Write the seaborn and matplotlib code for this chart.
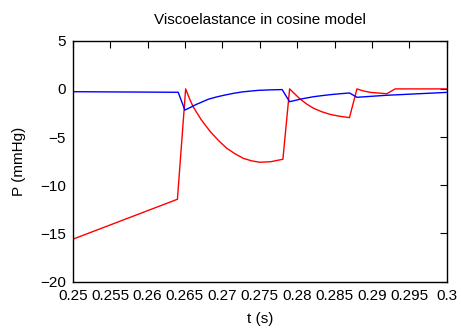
import matplotlib
matplotlib.use("Agg")
import matplotlib.pyplot as plt
import seaborn as sns
import pandas as pd

# Pressure traces (t in s, P in mmHg)
t_red = [0.2500, 0.2640, 0.2651, 0.2656, 0.2661, 0.2672, 0.2684, 0.2695,
         0.2706, 0.2717, 0.2728, 0.2739, 0.2750, 0.2765, 0.2781, 0.2790,
         0.2804, 0.2813, 0.2822, 0.2833, 0.2844, 0.2857, 0.2870, 0.2880,
         0.2888, 0.2898, 0.2920, 0.2931, 0.3000]
p_red = [-15.6, -11.45, 0.0, -0.98, -1.85, -3.22, -4.44, -5.36,
         -6.16, -6.73, -7.20, -7.46, -7.61, -7.55, -7.30, 0.0,
         -1.05, -1.58, -2.01, -2.37, -2.64, -2.84, -2.98, 0.0,
         -0.20, -0.36, -0.50, 0.0, 0.0]

t_blue = [0.2500, 0.2641, 0.2650, 0.2665, 0.2681, 0.2692, 0.2704, 0.2715,
          0.2726, 0.2737, 0.2748, 0.2764, 0.2780, 0.2790, 0.2805, 0.2822,
          0.2833, 0.2844, 0.2858, 0.2870, 0.2880, 0.2920, 0.2931, 0.3000]
p_blue = [-0.29, -0.35, -2.20, -1.62, -1.08, -0.84, -0.63, -0.46,
          -0.32, -0.23, -0.15, -0.10, -0.07, -1.33, -1.05, -0.81,
          -0.70, -0.60, -0.50, -0.42, -0.87, -0.66, -0.62, -0.36]

x_ticks = [0.25, 0.255, 0.26, 0.265, 0.27, 0.275, 0.28, 0.285, 0.29, 0.295, 0.3]
x_tick_labels = ["0.25", "0.255", "0.26", "0.265", "0.27", "0.275", "0.28",
                 "0.285", "0.29", "0.295", "0.3"]
y_ticks = [-20, -15, -10, -5, 0, 5]

sns.set_theme(style="white")
plt.rcParams["font.family"] = ["Liberation Sans", "DejaVu Sans"]
fs = 11

fig = plt.figure(figsize=(4.61, 3.31), dpi=100)
ax = fig.add_axes([0.1577, 0.149, 0.969 - 0.1577, 0.877 - 0.149])

red = pd.DataFrame({"t": t_red, "P": p_red})
blue = pd.DataFrame({"t": t_blue, "P": p_blue})
sns.lineplot(data=red, x="t", y="P", ax=ax, color="#ff0000", lw=1.0,
             sort=False, estimator=None)
sns.lineplot(data=blue, x="t", y="P", ax=ax, color="#0000ff", lw=1.0,
             sort=False, estimator=None)

ax.set_xlim(0.25, 0.3)
ax.set_ylim(-20, 5)
ax.set_xticks(x_ticks)
ax.set_xticklabels(x_tick_labels)
ax.set_yticks(y_ticks)
ax.tick_params(direction="in", length=5, width=0.8, color="black",
               top=True, right=True, labelsize=fs, pad=5, labelcolor="black")
for s in ax.spines.values():
    s.set_color("black")
    s.set_linewidth(1.0)

ax.set_xlabel("t (s)", fontsize=fs, color="black", labelpad=7)
ax.set_ylabel("P (mmHg)", fontsize=fs, color="black", labelpad=10)
ax.set_title("Viscoelastance in cosine model", fontsize=fs, color="black", pad=12)

fig.savefig("out.png", dpi=100)
